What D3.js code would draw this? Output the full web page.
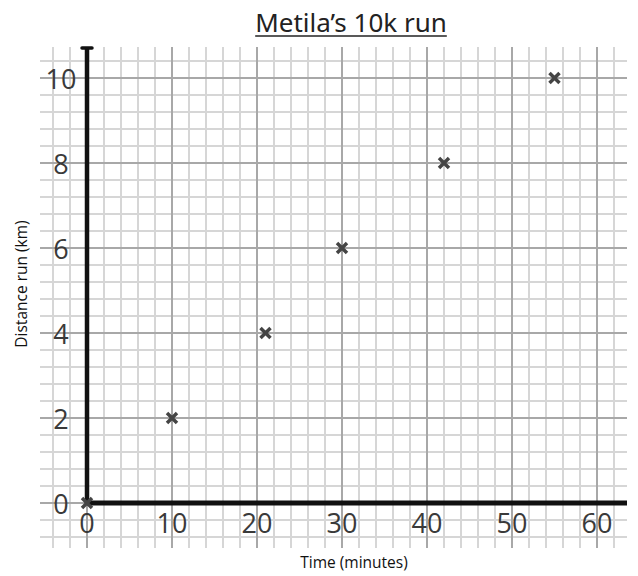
<!DOCTYPE html>
<html>
<head>
<meta charset="utf-8">
<script src="https://cdn.jsdelivr.net/npm/d3@7"></script>
<style>
  html, body { margin: 0; padding: 0; background: #fff; }
  svg { display: block; }
</style>
</head>
<body>
<svg id="chart" width="638" height="576"></svg>
<script>
// ---- Data ----
const timeMinutes = [0, 10, 21, 30, 42, 55];
const distanceKm  = [0, 2, 4, 6, 8, 10];
const xTickValues = [0, 10, 20, 30, 40, 50, 60];
const yTickValues = [0, 2, 4, 6, 8, 10];
const titleText = "Metila\u2019s 10k run";
const xLabelText = "Time (minutes)";
const yLabelText = "Distance run (km)";

const svg = d3.select("#chart");

const x = d3.scaleLinear().domain([0, 60]).range([87, 597]);
const y = d3.scaleLinear().domain([0, 10]).range([503, 78]);

// Grid extents
const gridTop = 47, gridBottom = 548, gridLeft = 40, gridRight = 627;

const minorCol = "#d6d6d6", majorCol = "#a8a8a8";

// Vertical grid lines every 2 minutes from -4 to 62
const vLines = d3.range(-4, 63, 2);
svg.append("g").selectAll("line").data(vLines.filter(d => d % 10 !== 0)).join("line")
  .attr("x1", d => x(d)).attr("x2", d => x(d))
  .attr("y1", gridTop).attr("y2", gridBottom)
  .attr("stroke", minorCol)
  .attr("stroke-width", 2);

// Horizontal grid lines every 0.4 km from -0.8 to 10.4
const hLines = d3.range(-2, 27).map(i => +(i * 0.4).toFixed(1));
const isMajorH = d => Math.abs(d / 2 - Math.round(d / 2)) <= 1e-6;
const hg = svg.append("g");
hg.selectAll("line.minor").data(hLines.filter(d => !isMajorH(d))).join("line")
  .attr("class", "minor")
  .attr("x1", gridLeft).attr("x2", gridRight)
  .attr("y1", d => y(d)).attr("y2", d => y(d))
  .attr("stroke", minorCol).attr("stroke-width", 2);
hg.selectAll("line.major").data(hLines.filter(isMajorH)).join("line")
  .attr("class", "major")
  .attr("x1", gridLeft).attr("x2", gridRight)
  .attr("y1", d => y(d)).attr("y2", d => y(d))
  .attr("stroke", majorCol).attr("stroke-width", 2);
// major verticals
svg.append("g").selectAll("line").data(vLines.filter(d => d % 10 === 0)).join("line")
  .attr("x1", d => x(d)).attr("x2", d => x(d))
  .attr("y1", gridTop).attr("y2", gridBottom)
  .attr("stroke", majorCol).attr("stroke-width", 2);

// Axes (thick black)
svg.append("line")
  .attr("x1", x(0)).attr("x2", gridRight)
  .attr("y1", y(0)).attr("y2", y(0))
  .attr("stroke", "#111").attr("stroke-width", 5);
svg.append("line")
  .attr("x1", x(0)).attr("x2", x(0))
  .attr("y1", y(0) + 2).attr("y2", gridTop)
  .attr("stroke", "#111").attr("stroke-width", 4.5);
svg.append("line")
  .attr("x1", x(0) - 5).attr("x2", x(0) + 5)
  .attr("y1", gridTop + 1).attr("y2", gridTop + 1)
  .attr("stroke", "#111").attr("stroke-width", 3.5)
  .attr("stroke-linecap", "round");

// Tick labels
const tickFont = "'Open Sans', sans-serif";
svg.append("g").selectAll("text").data(xTickValues).join("text")
  .attr("x", d => x(d)).attr("y", 533)
  .attr("text-anchor", "middle")
  .attr("font-family", tickFont).attr("font-size", 27)
  .attr("fill", "#3a3a3a")
  .text(d => d);
svg.append("g").selectAll("text").data(yTickValues).join("text")
  .attr("x", 61).attr("y", d => y(d) + 11)
  .attr("text-anchor", "middle")
  .attr("font-family", tickFont).attr("font-size", 27)
  .attr("fill", "#3a3a3a")
  .text(d => d);

// Markers
const pts = timeMinutes.map((t, i) => ({ t, d: distanceKm[i] }));
svg.append("g").selectAll("path").data(pts).join("path")
  .attr("transform", p => `translate(${x(p.t)},${y(p.d)})`)
  .attr("d", "M-5,-5L5,5M-5,5L5,-5")
  .attr("stroke", "#444").attr("stroke-width", 3.5)
  .attr("fill", "none");

// Title with underline
const title = svg.append("text")
  .attr("x", 351).attr("y", 32)
  .attr("text-anchor", "middle")
  .attr("font-family", "'Noto Sans', sans-serif").attr("font-size", 26)
  .attr("fill", "#222")
  .text(titleText);
const tw = title.node().getComputedTextLength();
svg.append("line")
  .attr("x1", 351 - tw / 2).attr("x2", 351 + tw / 2)
  .attr("y1", 36).attr("y2", 36)
  .attr("stroke", "#222").attr("stroke-width", 1.5);

// Axis labels
svg.append("text")
  .attr("x", 354).attr("y", 568)
  .attr("text-anchor", "middle")
  .attr("font-family", "'Open Sans', sans-serif").attr("font-size", 15.5)
  .attr("fill", "#111")
  .text(xLabelText);
svg.append("text")
  .attr("transform", "translate(27,284) rotate(-90)")
  .attr("text-anchor", "middle")
  .attr("font-family", "'Open Sans', sans-serif").attr("font-size", 15.5)
  .attr("fill", "#111")
  .text(yLabelText);
</script>
</body>
</html>
